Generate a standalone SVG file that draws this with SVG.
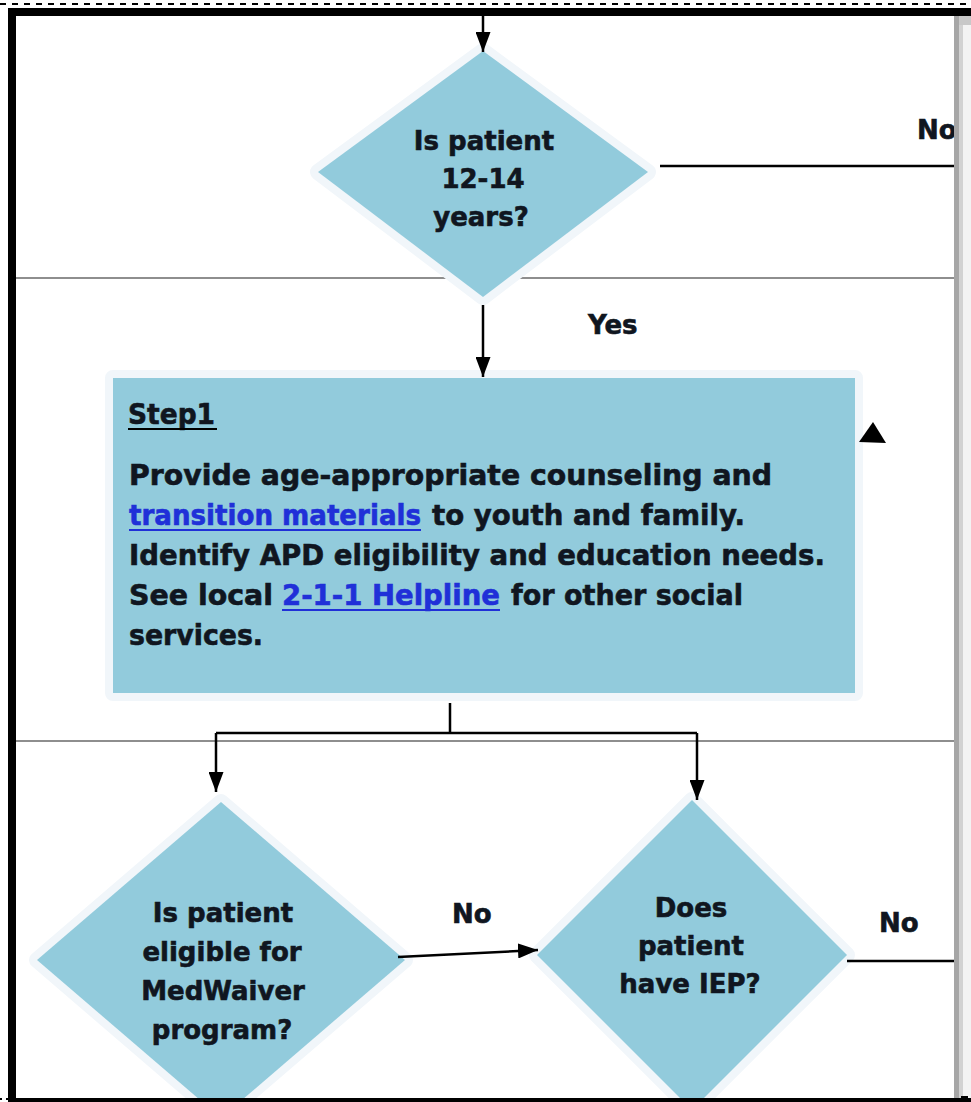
<svg xmlns="http://www.w3.org/2000/svg" width="971" height="1102" viewBox="0 0 971 1102">
  <style>
    .bg { fill: #ffffff; }
    .lane { stroke: #8e8e8e; stroke-width: 2; fill: none; }
    .shape { fill: #92cbdc; stroke: #f1f6fa; stroke-width: 16; stroke-linejoin: round; paint-order: stroke fill; }
    .label { font-family: "DejaVu Sans", "Liberation Sans", sans-serif; font-weight: bold; fill: #101620; stroke: #101620; stroke-width: 0.6; }
    .dia { font-size: 26px; text-anchor: middle; }
    .body { font-size: 28px; }
    .link { fill: #2030d8; stroke: #2030d8; }
    .conn { stroke: #000000; stroke-width: 2.5; fill: none; }
    .ul { stroke-width: 2; }
  </style>
  <defs>
    <marker id="arrow" viewBox="0 0 10 10" refX="10" refY="5" markerWidth="20" markerHeight="15" markerUnits="userSpaceOnUse" orient="auto" preserveAspectRatio="none">
      <path d="M0,0 L10,5 L0,10 z" fill="#000000"/>
    </marker>
    <clipPath id="page">
      <rect x="16" y="16" width="938" height="1082"/>
    </clipPath>
  </defs>

  <rect class="bg" x="0" y="0" width="971" height="1102"/>

  <!-- page content, clipped to the frame -->
  <g clip-path="url(#page)">
    <!-- swimlane separators -->
    <g id="lanes">
      <line class="lane" x1="16" y1="278" x2="954" y2="278"/>
      <line class="lane" x1="16" y1="741" x2="954" y2="741"/>
    </g>

    <!-- decision: age 12-14 -->
    <g id="age-check">
      <polygon class="shape" points="483,51 648,172 483,297 318,172"/>
      <text class="label dia" x="484" y="150" font-size="27">Is patient</text>
      <text class="label dia" x="483" y="188" font-size="27">12-14</text>
      <text class="label dia" x="481" y="226" font-size="27">years?</text>
    </g>

    <!-- step 1 process box -->
    <g id="step1">
      <rect class="shape" x="113" y="378" width="742" height="315"/>
      <text class="label body" x="128" y="424" textLength="87" lengthAdjust="spacingAndGlyphs">Step1</text>
      <line class="conn ul" x1="128" y1="429" x2="217" y2="429"/>
      <text class="label body" x="129" y="485" textLength="643" lengthAdjust="spacingAndGlyphs">Provide age-appropriate counseling and</text>
      <text class="label body link" x="129" y="525" textLength="292" lengthAdjust="spacingAndGlyphs">transition materials</text>
      <line class="ul" stroke="#2030d8" x1="129" y1="530" x2="421" y2="530"/>
      <text class="label body" x="432" y="525" textLength="313" lengthAdjust="spacingAndGlyphs">to youth and family.</text>
      <text class="label body" x="129" y="565" textLength="696" lengthAdjust="spacingAndGlyphs">Identify APD eligibility and education needs.</text>
      <text class="label body" x="129" y="605" textLength="144" lengthAdjust="spacingAndGlyphs">See local</text>
      <text class="label body link" x="282" y="605" textLength="218" lengthAdjust="spacingAndGlyphs">2-1-1 Helpline</text>
      <line class="ul" stroke="#2030d8" x1="282" y1="610" x2="500" y2="610"/>
      <text class="label body" x="511" y="605" textLength="232" lengthAdjust="spacingAndGlyphs">for other social</text>
      <text class="label body" x="129" y="645" textLength="134" lengthAdjust="spacingAndGlyphs">services.</text>
    </g>

    <!-- decision: MedWaiver eligibility -->
    <g id="medwaiver-check">
      <polygon class="shape" points="221,802 405,960 221,1118 37,960"/>
      <text class="label dia" x="223" y="922">Is patient</text>
      <text class="label dia" x="222" y="961">eligible for</text>
      <text class="label dia" x="223" y="1000">MedWaiver</text>
      <text class="label dia" x="222" y="1039">program?</text>
    </g>

    <!-- decision: IEP -->
    <g id="iep-check">
      <polygon class="shape" points="692,800 847,955 692,1110 537,955"/>
      <text class="label dia" x="691" y="917">Does</text>
      <text class="label dia" x="691" y="955">patient</text>
      <text class="label dia" x="690" y="993">have IEP?</text>
    </g>

    <!-- connectors, drawn above the shapes -->
    <g id="connectors">
      <path class="conn" d="M483,16 V52" marker-end="url(#arrow)"/>
      <path class="conn" d="M483,305 V377" marker-end="url(#arrow)"/>
      <path class="conn" d="M660,166 H954"/>
      <path class="conn" d="M450,703 V733 M216,733 H697"/>
      <path class="conn" d="M216,733 V792" marker-end="url(#arrow)"/>
      <path class="conn" d="M697,733 V800" marker-end="url(#arrow)"/>
      <path class="conn" d="M398,957 L538,950" stroke-width="3.2" marker-end="url(#arrow)"/>
      <path class="conn" d="M847,961 H954"/>
      <polygon points="873,422 859,442 886,443" fill="#000000"/>
      <text class="label" x="917" y="139" font-size="26">No</text>
      <text class="label" x="588" y="334" font-size="26">Yes</text>
      <text class="label" x="452" y="923" font-size="26">No</text>
      <text class="label" x="879" y="932" font-size="26">No</text>
    </g>
  </g>

  <!-- window frame -->
  <g id="frame">
    <line x1="0" y1="4" x2="971" y2="4" stroke="#000000" stroke-width="2" stroke-dasharray="6 6"/>
    <line x1="0" y1="1099" x2="8" y2="1099" stroke="#000000" stroke-width="2" stroke-dasharray="2 4"/>
    <rect x="954" y="16" width="17" height="1082" fill="#f3f3f3"/>
    <rect x="954" y="16" width="17" height="9" fill="#c8c8c8"/>
    <rect x="954" y="16" width="5" height="1082" fill="#a6a6a6"/>
    <rect x="959" y="25" width="4" height="1073" fill="#d2d2d2"/>
    <rect x="8" y="8" width="963" height="8" fill="#000000"/>
    <rect x="8" y="8" width="8" height="1094" fill="#000000"/>
    <rect x="8" y="1098" width="963" height="4" fill="#000000"/>
    <rect x="961" y="1096" width="7" height="6" fill="#000000"/>
  </g>
</svg>
